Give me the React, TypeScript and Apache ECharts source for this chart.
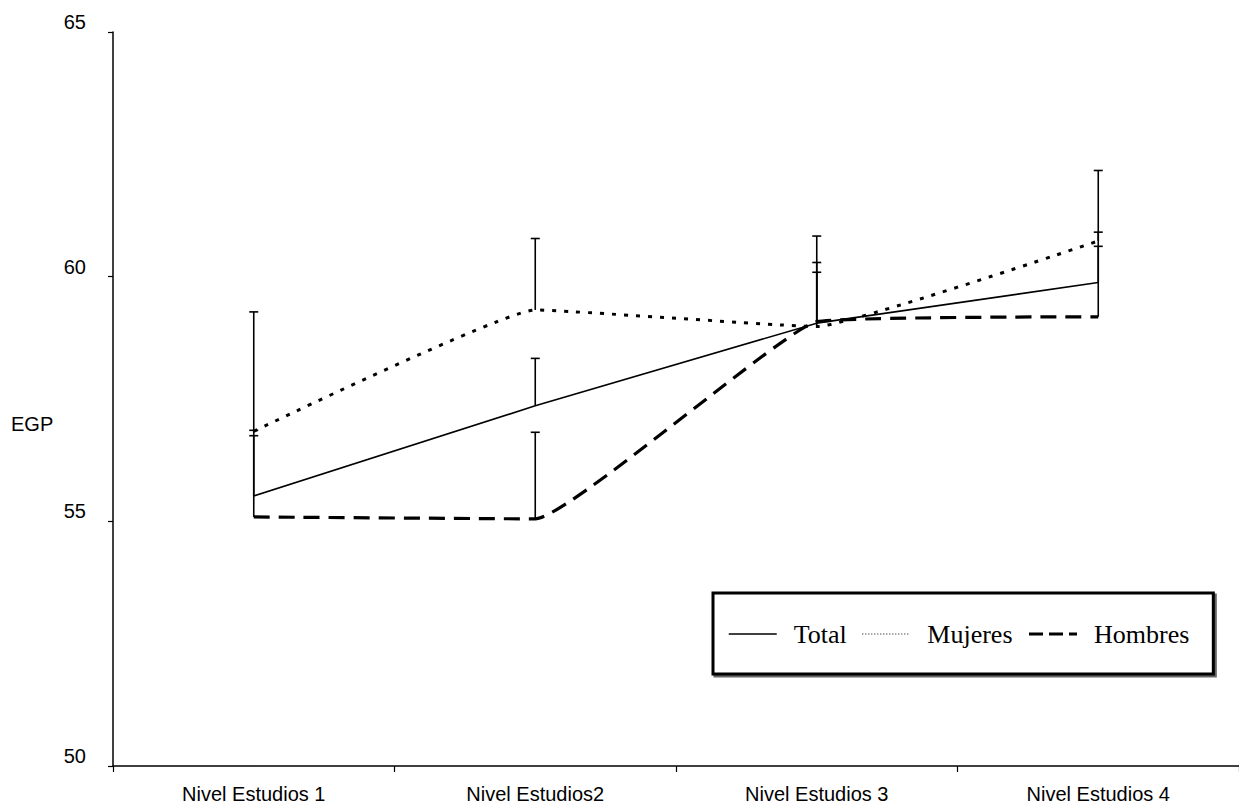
import React, { useEffect, useRef } from "react";
import * as echarts from "echarts";

const categories = ["Nivel Estudios 1", "Nivel Estudios2", "Nivel Estudios 3", "Nivel Estudios 4"];
const totalValues = [55.52, 57.36, 59.05, 59.88];
const mujeresValues = [56.84, 59.32, 58.98, 60.73];
const hombresValues = [55.09, 55.05, 59.08, 59.18];
const totalTops = [59.28, 58.33, 60.09, 62.17];
const mujeresTops = [56.86, 60.78, 60.29, 60.91];
const hombresTops = [56.75, 56.82, 60.83, 60.62];
const yTicks = [50, 55, 60, 65];

const errData = (vals: number[], tops: number[]) => vals.map((v, i) => [i, v, tops[i]]);

const renderErr = (params: any, api: any) => {
  const x = api.value(0);
  const lo = api.coord([x, api.value(1)]);
  const hi = api.coord([x, api.value(2)]);
  const st = { stroke: "#000", lineWidth: 1.6 };
  return {
    type: "group",
    children: [
      { type: "line", shape: { x1: lo[0], y1: lo[1], x2: hi[0], y2: hi[1] }, style: st },
      { type: "line", shape: { x1: hi[0] - 4.5, y1: hi[1], x2: hi[0] + 4.5, y2: hi[1] }, style: st },
    ],
  };
};

const hidden = { color: "rgba(0,0,0,0)", borderColor: "rgba(0,0,0,0)", borderWidth: 0 };

export default function App() {
  const ref = useRef<HTMLDivElement>(null);
  useEffect(() => {
    const chart = echarts.init(ref.current!, undefined, { renderer: "svg" });
    chart.setOption({
      animation: false,
      backgroundColor: "#fff",
      grid: { left: 113, top: 32, bottom: 39, width: 1137 },
      xAxis: {
        type: "category",
        data: categories,
        boundaryGap: true,
        axisLine: { lineStyle: { color: "#000", width: 1.5 } },
        axisTick: { show: true, length: 6, lineStyle: { color: "#000", width: 1.2 } },
        axisLabel: { color: "#000", fontFamily: "Liberation Sans, Arial", fontSize: 20, margin: 18 },
      },
      yAxis: {
        type: "value",
        min: yTicks[0],
        max: yTicks[yTicks.length - 1],
        interval: 5,
        splitLine: { show: false },
        axisLine: { show: true, lineStyle: { color: "#000", width: 1.5 } },
        axisTick: { show: true, length: 5, lineStyle: { color: "#000", width: 1.2 } },
        axisLabel: {
          color: "#000",
          fontFamily: "Liberation Sans, Arial",
          fontSize: 20,
          margin: 27,
          verticalAlign: "bottom",
        },
      },
      legend: {
        left: 713,
        top: 593,
        orient: "horizontal",
        data: [
          { name: "Total", itemStyle: hidden, lineStyle: { width: 1.5, type: "solid", color: "#000" } },
          { name: "Mujeres", itemStyle: hidden, lineStyle: { width: 1, type: [1, 2], color: "#000" } },
          { name: "Hombres", itemStyle: hidden, lineStyle: { width: 3, type: [14, 6], color: "#000" } },
        ],
        itemWidth: 48,
        itemHeight: 14,
        itemGap: 15,
        padding: [28, 24, 27, 15],
        borderColor: "#000",
        borderWidth: 3,
        backgroundColor: "#fff",
        shadowColor: "rgba(0,0,0,0.6)",
        shadowOffsetX: 2,
        shadowOffsetY: 2,
        textStyle: { fontFamily: "Liberation Serif, Times New Roman", fontSize: 26, color: "#000", padding: [0, 0, 0, 12] },
      },
      graphic: [
        {
          type: "text",
          left: 11,
          top: 414,
          style: { text: "EGP", fontFamily: "Liberation Sans, Arial", fontSize: 20, fill: "#000" },
        },
      ],
      series: [
        {
          name: "Total",
          type: "line",
          data: totalValues,
          symbol: "none",
          lineStyle: { color: "#000", width: 1.6, type: "solid" },
          itemStyle: { color: "#000" },
          z: 3,
        },
        {
          name: "Mujeres",
          type: "line",
          data: mujeresValues,
          symbol: "none",
          smooth: 0.1,
          lineStyle: { color: "#000", width: 3, type: [4, 8] },
          itemStyle: { color: "#000" },
          z: 3,
        },
        {
          name: "Hombres",
          type: "line",
          data: hombresValues,
          symbol: "none",
          smooth: 0.1,
          lineStyle: { color: "#000", width: 3.2, type: [16, 9] },
          itemStyle: { color: "#000" },
          z: 3,
        },
        { name: "errTotal", type: "custom", renderItem: renderErr, data: errData(totalValues, totalTops), z: 2 },
        { name: "errMujeres", type: "custom", renderItem: renderErr, data: errData(mujeresValues, mujeresTops), z: 2 },
        { name: "errHombres", type: "custom", renderItem: renderErr, data: errData(hombresValues, hombresTops), z: 2 },
      ],
    });
    return () => chart.dispose();
  }, []);
  return (
    <div
      ref={ref}
      style={{ position: "absolute", left: 0, top: 0, width: 1239, height: 805 }}
    />
  );
}
